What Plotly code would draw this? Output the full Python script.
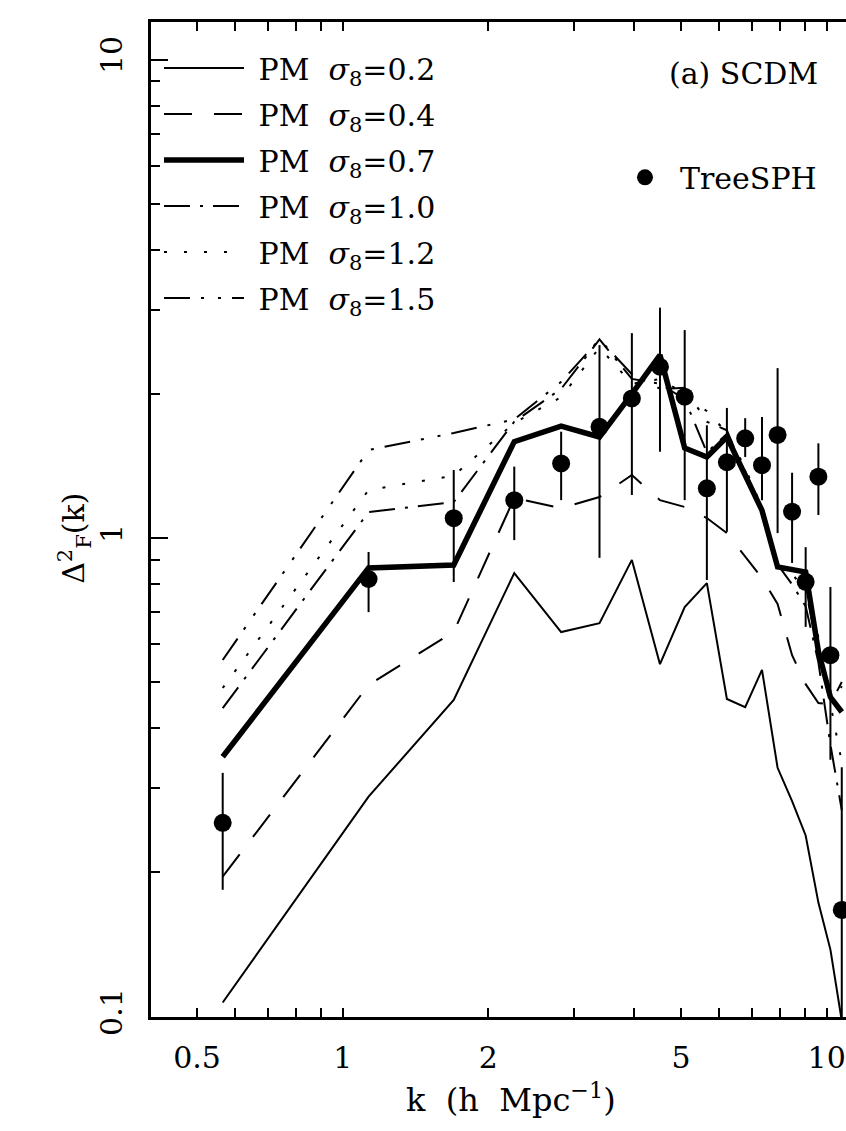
import plotly.graph_objects as go

# wavenumbers k (h Mpc^-1)
k = [0.565, 1.131, 1.696, 2.262, 2.827, 3.393, 3.958, 4.524, 5.089, 5.655,
     6.220, 6.786, 7.351, 7.917, 8.482, 9.048, 9.613, 10.179, 10.744]

# PM flux power spectra for various sigma_8
pm_s02 = [0.107, 0.288, 0.459, 0.845, 0.636, 0.664, 0.900, 0.545, 0.717, 0.805,
          0.461, 0.443, 0.530, 0.331, 0.282, 0.239, 0.173, 0.138, 0.098]
pm_s04 = [0.196, 0.493, 0.637, 1.212, 1.155, 1.218, 1.354, 1.200, 1.161, 1.101,
          1.024, 0.917, 0.825, 0.728, 0.569, 0.495, 0.452, 0.450, 0.500]
pm_s07 = [0.349, 0.866, 0.878, 1.590, 1.714, 1.626, 2.000, 2.412, 1.542, 1.477,
          1.626, 1.344, 1.142, 0.870, 0.861, 0.849, 0.580, 0.465, 0.433]
pm_s10 = [0.441, 1.133, 1.189, 1.750, 2.050, 2.600, 2.150, 2.100, 1.950, 1.510,
          1.650, 1.380, 1.150, 0.880, 0.800, 0.720, 0.550, 0.370, 0.270]
pm_s12 = [0.486, 1.260, 1.350, 1.740, 1.970, 2.500, 2.100, 2.150, 2.000, 1.840,
          1.660, 1.400, 1.160, 0.890, 0.820, 0.800, 0.620, 0.450, 0.340]
pm_s15 = [0.556, 1.527, 1.658, 1.770, 2.120, 2.600, 2.200, 2.050, 2.060, 1.750,
          1.680, 1.360, 1.150, 0.880, 0.840, 0.780, 0.580, 0.450, 0.490]

# TreeSPH points with error bar ends
tree = [0.254, 0.821, 1.100, 1.200, 1.432, 1.708, 1.958, 2.280, 1.974, 1.270,
        1.440, 1.616, 1.420, 1.642, 1.135, 0.810, 1.343, 0.569, 0.167]
tree_hi = [0.323, 0.935, 1.387, 1.410, 1.668, 2.530, 2.680, 3.030, 2.720, 1.720,
           1.870, 1.780, 1.790, 2.265, 1.369, 0.957, 1.577, 0.790, 0.332]
tree_lo = [0.184, 0.700, 0.809, 0.990, 1.200, 0.909, 1.230, 1.515, 1.200, 0.817,
           1.030, 1.477, 1.200, 1.024, 0.887, 0.652, 1.117, 0.344, 0.090]

sigma_labels = ["0.2", "0.4", "0.7", "1.0", "1.2", "1.5"]
x_tick_vals = [0.5, 1, 2, 5, 10]
x_tick_text = ["0.5", "1", "2", "5", "10"]
x_minor_vals = [0.4, 0.6, 0.7, 0.8, 0.9, 3, 4, 6, 7, 8, 9]
y_tick_vals = [0.1, 1, 10]
y_tick_text = ["0.1", "1", "10"]
y_minor_vals = [0.2, 0.3, 0.4, 0.5, 0.6, 0.7, 0.8, 0.9, 2, 3, 4, 5, 6, 7, 8, 9]

FONT = "DejaVu Serif"
FS = 30

series = [pm_s02, pm_s04, pm_s07, pm_s10, pm_s12, pm_s15]
widths = [2, 2, 5.5, 2, 2, 2]
dashes = ["solid", "28px,22px", "solid", "26px,10px,3px,10px", "3px,17px",
          "26px,11px,3px,14px,3px,11px"]

fig = go.Figure()
for i, (vals, lab) in enumerate(zip(series, sigma_labels)):
    fig.add_trace(go.Scatter(
        x=k, y=vals, mode="lines",
        line=dict(color="black", width=widths[i], dash=dashes[i]),
        name="\u00a0PM\u00a0\u00a0<i>σ</i><sub>8</sub>=" + lab,
        legendgroup="g%d" % i, legend="legend",
    ))

err_plus = [h - v for h, v in zip(tree_hi, tree)]
err_minus = [v - l for v, l in zip(tree, tree_lo)]
fig.add_trace(go.Scatter(
    x=k, y=tree, mode="markers",
    marker=dict(color="black", size=18, symbol="circle"),
    error_y=dict(type="data", array=err_plus, arrayminus=err_minus,
                 thickness=2, width=0, color="black"),
    name="TreeSPH", legend="legend2",
))

xr = [-0.3961, 1.0399]
yr = [-1.001, 1.0784]

fig.update_layout(
    width=846, height=1131,
    margin=dict(l=151, r=0, t=22, b=114),
    paper_bgcolor="white", plot_bgcolor="white",
    font=dict(family=FONT, size=FS, color="black"),
    showlegend=True,
    legend=dict(x=0.0115, y=0.980, xanchor="left", yanchor="top",
                bgcolor="rgba(0,0,0,0)", itemwidth=80, traceorder="grouped",
                tracegroupgap=4, font=dict(family=FONT, size=FS)),
    legend2=dict(x=0.6604, y=0.870, xanchor="left", yanchor="top",
                 bgcolor="rgba(0,0,0,0)", itemwidth=60,
                 font=dict(family=FONT, size=FS)),
    xaxis=dict(type="log", range=xr, showgrid=False, zeroline=False,
               showline=True, linecolor="black", linewidth=2.5, mirror="ticks",
               ticks="inside", ticklen=9, tickwidth=2, tickcolor="black",
               tickvals=x_tick_vals, ticktext=x_tick_text,
               ticklabelstandoff=12,
               minor=dict(tickvals=x_minor_vals, ticks="inside", ticklen=9,
                          tickwidth=2, tickcolor="black", showgrid=False)),
    xaxis2=dict(type="log", range=xr, overlaying="x", anchor="y", side="bottom",
                showgrid=False, zeroline=False, showline=False, mirror="ticks",
                ticks="inside", ticklen=17, tickwidth=2, tickcolor="black",
                tickvals=[1, 10], showticklabels=False),
    yaxis=dict(type="log", range=yr, showgrid=False, zeroline=False,
               showline=True, linecolor="black", linewidth=2.5, mirror=False,
               ticks="inside", ticklen=17, tickwidth=2, tickcolor="black",
               tickvals=y_tick_vals, ticktext=y_tick_text, tickangle=-90,
               ticklabelstandoff=14,
               minor=dict(tickvals=y_minor_vals, ticks="inside", ticklen=9,
                          tickwidth=2, tickcolor="black", showgrid=False)),
    annotations=[
        dict(text="(a) SCDM", xref="paper", yref="paper", x=0.9626, y=0.9487,
             xanchor="right", yanchor="middle", showarrow=False,
             font=dict(family=FONT, size=FS)),
        dict(text="k\u00a0\u00a0(h\u00a0\u00a0Mpc<sup>−1</sup>)", xref="paper",
             yref="paper", x=0.518, y=-0.081, xanchor="center",
             yanchor="middle", showarrow=False,
             font=dict(family=FONT, size=32)),
        dict(text="Δ<sup>2</sup><sub>F</sub>(k)", xref="paper", yref="paper",
             x=-0.111, y=0.4814, xanchor="center", yanchor="middle",
             textangle=-90, showarrow=False, font=dict(family=FONT, size=FS)),
    ],
)

fig.write_html("out.html")
